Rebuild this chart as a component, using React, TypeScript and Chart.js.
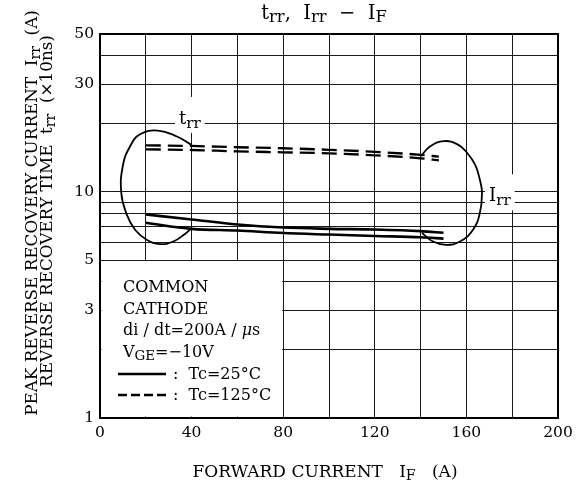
import React, { useEffect, useRef } from 'react';
import { Chart, registerables } from 'chart.js';

Chart.register(...registerables);

// ---- axes ----
const X_GRID = [0, 20, 40, 60, 80, 100, 120, 140, 160, 180, 200];
const X_LABELS = [0, 40, 80, 120, 160, 200];
const Y_GRID = [1, 2, 3, 4, 5, 6, 7, 8, 9, 10, 20, 30, 40, 50];
const Y_LABELS = [1, 3, 5, 10, 30, 50];

// ---- series (IF in A) ----
const IF_SOLID = [20, 40, 60, 80, 100, 120, 140, 150];
const SOLID_UPPER = [7.95, 7.56, 7.18, 6.96, 6.87, 6.82, 6.71, 6.6];
const SOLID_LOWER = [7.31, 6.87, 6.75, 6.58, 6.48, 6.39, 6.31, 6.22];

const IF_DASHED = [20, 40, 60, 80, 100, 120, 140, 148];
const DASHED_UPPER = [16.09, 15.98, 15.77, 15.61, 15.37, 15.06, 14.6, 14.34];
const DASHED_LOWER = [15.45, 15.34, 15.13, 14.98, 14.83, 14.53, 14.09, 13.8];

// ---- grouping loops (annotation curves) ----
const TRR_LOOP_X = [39.8, 33.6, 25.3, 17.5, 13.1, 10.0, 9.3, 11.7, 15.3, 20.4, 26.2, 32.0, 37.1, 40.0];
const TRR_LOOP_Y = [16.2, 17.6, 18.7, 18.0, 15.9, 13.1, 9.9, 7.94, 6.81, 6.15, 5.88, 6.04, 6.52, 6.93];
const IRR_LOOP_X = [140.2, 144.1, 150.2, 156.3, 160.3, 163.8, 165.9, 166.8, 165.9, 162.9, 157.2, 151.1, 145.4, 140.6];
const IRR_LOOP_Y = [14.4, 15.9, 16.8, 16.2, 14.9, 13.2, 11.3, 9.93, 8.1, 6.81, 6.04, 5.84, 6.04, 6.59];

// label anchors (data coords: left / baseline)
const TRR_LABEL = { x: 34.5, y: 20 };
const IRR_LABEL = { x: 169.9, y: 9.09 };

const FONT = '"DejaVu Serif", "Liberation Serif", serif';

type Seg = { t: string; sub?: boolean; it?: boolean };

const fontFor = (s: Seg, size: number) =>
  `${s.it ? 'italic ' : ''}${s.sub ? size * 0.84 : size}px ${FONT}`;

function richWidth(ctx: CanvasRenderingContext2D, segs: Seg[], size: number) {
  let w = 0;
  for (const s of segs) {
    ctx.font = fontFor(s, size);
    w += ctx.measureText(s.t).width;
  }
  return w;
}

function drawRich(
  ctx: CanvasRenderingContext2D,
  segs: Seg[],
  x: number,
  y: number,
  size: number,
  align: 'left' | 'center' = 'left'
) {
  const total = richWidth(ctx, segs, size);
  let cx = align === 'center' ? x - total / 2 : x;
  ctx.textAlign = 'left';
  ctx.textBaseline = 'alphabetic';
  ctx.fillStyle = '#000';
  for (const s of segs) {
    ctx.font = fontFor(s, size);
    ctx.fillText(s.t, cx, y + (s.sub ? size * 0.2 : 0));
    cx += ctx.measureText(s.t).width;
  }
  return total;
}

const TITLE: Seg[] = [
  { t: 't' }, { t: 'rr', sub: true }, { t: ',  I' }, { t: 'rr', sub: true }, { t: '  \u2212  I' }, { t: 'F', sub: true },
];
const X_TITLE: Seg[] = [{ t: 'FORWARD CURRENT   I' }, { t: 'F', sub: true }, { t: '   (A)' }];
const Y_TITLE_1: Seg[] = [{ t: 'PEAK REVERSE RECOVERY CURRENT  I' }, { t: 'rr', sub: true }, { t: '  (A)' }];
const Y_TITLE_2: Seg[] = [{ t: 'REVERSE RECOVERY TIME  t' }, { t: 'rr', sub: true }, { t: '  (\u00d710ns)' }];
const LEGEND_LINES: Seg[][] = [
  [{ t: 'COMMON' }],
  [{ t: 'CATHODE' }],
  [{ t: 'di / dt=200A / ' }, { t: '\u03bc', it: true }, { t: 's' }],
  [{ t: 'V' }, { t: 'GE', sub: true }, { t: '=\u221210V' }],
];
const LEGEND_KEYS: { segs: Seg[]; dash: number[] }[] = [
  { segs: [{ t: ':  Tc=25\u00b0C' }], dash: [] },
  { segs: [{ t: ':  Tc=125\u00b0C' }], dash: [9, 4] },
];

const pts = (xs: number[], ys: number[]) => xs.map((x, i) => ({ x, y: ys[i] }));

const LABEL_SIZE = 18;
const LEGEND_SIZE = 16;

const decorPlugin = {
  id: 'decor',
  beforeDatasetsDraw(chart: any) {
    const ctx: CanvasRenderingContext2D = chart.ctx;
    const xs = chart.scales.x;
    const ys = chart.scales.y;
    ctx.save();
    ctx.fillStyle = '#fff';
    // legend box (hides grid)
    const l = xs.getPixelForValue(0) + 1.5;
    const r = xs.getPixelForValue(80) - 1;
    const t = ys.getPixelForValue(5) + 1;
    const b = ys.getPixelForValue(1) - 1.5;
    ctx.fillRect(l, t, r - l, b - t);
    // label boxes
    const lbls: [typeof TRR_LABEL, Seg[]][] = [
      [TRR_LABEL, [{ t: 't' }, { t: 'rr', sub: true }]],
      [IRR_LABEL, [{ t: 'I' }, { t: 'rr', sub: true }]],
    ];
    for (const [pos, segs] of lbls) {
      const px = xs.getPixelForValue(pos.x);
      const py = ys.getPixelForValue(pos.y);
      const w = richWidth(ctx, segs, LABEL_SIZE);
      ctx.fillStyle = '#fff';
      ctx.fillRect(px - 4, py - 27, w + 8, 36);
    }
    ctx.restore();
  },
  afterDatasetsDraw(chart: any) {
    const ctx: CanvasRenderingContext2D = chart.ctx;
    const xs = chart.scales.x;
    const ys = chart.scales.y;
    const a = chart.chartArea;
    ctx.save();
    // frame
    ctx.strokeStyle = '#000';
    ctx.lineWidth = 2;
    ctx.strokeRect(a.left, a.top, a.right - a.left, a.bottom - a.top);

    // curve labels
    drawRich(ctx, [{ t: 't' }, { t: 'rr', sub: true }], xs.getPixelForValue(TRR_LABEL.x), ys.getPixelForValue(TRR_LABEL.y), LABEL_SIZE);
    drawRich(ctx, [{ t: 'I' }, { t: 'rr', sub: true }], xs.getPixelForValue(IRR_LABEL.x), ys.getPixelForValue(IRR_LABEL.y), LABEL_SIZE);

    // legend text
    const lx = a.left + 23;
    const baselines = [291.7, 314, 335, 356.5];
    LEGEND_LINES.forEach((segs, i) => drawRich(ctx, segs, lx, baselines[i], LEGEND_SIZE));
    const keyY = [379, 400];
    LEGEND_KEYS.forEach((k, i) => {
      ctx.strokeStyle = '#000';
      ctx.lineWidth = 2.5;
      ctx.setLineDash(k.dash);
      ctx.beginPath();
      ctx.moveTo(a.left + 18, keyY[i] - 5);
      ctx.lineTo(a.left + 66, keyY[i] - 5);
      ctx.stroke();
      ctx.setLineDash([]);
      drawRich(ctx, k.segs, a.left + 73, keyY[i], LEGEND_SIZE);
    });
    ctx.restore();
  },
  afterDraw(chart: any) {
    const ctx: CanvasRenderingContext2D = chart.ctx;
    ctx.save();
    drawRich(ctx, TITLE, 324, 18.5, 19.5, 'center');
    drawRich(ctx, X_TITLE, 325, 477, 17, 'center');
    ctx.translate(37, 213);
    ctx.rotate(-Math.PI / 2);
    drawRich(ctx, Y_TITLE_1, 0, 0, 16.8, 'center');
    ctx.restore();
    ctx.save();
    ctx.translate(51.5, 211);
    ctx.rotate(-Math.PI / 2);
    drawRich(ctx, Y_TITLE_2, 0, 0, 16.8, 'center');
    ctx.restore();
  },
};

export default function App() {
  const ref = useRef<HTMLCanvasElement>(null);
  useEffect(() => {
    const canvas = ref.current!;
    const solid = { borderColor: '#000', borderWidth: 2.6, pointRadius: 0, fill: false, cubicInterpolationMode: 'monotone' as const };
    const dashed = { ...solid, borderWidth: 2.3, borderDash: [15, 7] };
    const loop = { borderColor: '#000', borderWidth: 1.8, pointRadius: 0, fill: false, tension: 0.45 };
    const chart = new Chart(canvas, {
      type: 'line',
      data: {
        datasets: [
          { label: 'Tc=25°C a', data: pts(IF_SOLID, SOLID_UPPER), ...solid },
          { label: 'Tc=25°C b', data: pts(IF_SOLID, SOLID_LOWER), ...solid },
          { label: 'Tc=125°C a', data: pts(IF_DASHED, DASHED_UPPER), ...dashed },
          { label: 'Tc=125°C b', data: pts(IF_DASHED, DASHED_LOWER), ...dashed },
          { label: 'trr', data: pts(TRR_LOOP_X, TRR_LOOP_Y), ...loop },
          { label: 'Irr', data: pts(IRR_LOOP_X, IRR_LOOP_Y), ...loop },
        ] as any,
      },
      options: {
        animation: false,
        responsive: false,
        devicePixelRatio: 1,
        layout: { padding: { top: 34, right: 22, left: 0, bottom: 0 } },
        plugins: { legend: { display: false }, tooltip: { enabled: false }, title: { display: false } },
        scales: {
          x: {
            type: 'linear',
            min: 0,
            max: 200,
            afterBuildTicks: (s: any) => {
              s.ticks = X_GRID.map((v) => ({ value: v }));
            },
            afterFit: (s: any) => {
              s.height = 70;
            },
            ticks: {
              autoSkip: false,
              maxRotation: 0,
              padding: 6,
              color: '#000',
              font: { family: FONT, size: 15.5 },
              callback: (v: any) => (X_LABELS.includes(Number(v)) ? String(v) : ''),
            },
            grid: { color: '#1a1a1a', lineWidth: 1, drawTicks: false },
            border: { color: '#000', width: 2 },
          },
          y: {
            type: 'logarithmic',
            min: 1,
            max: 50,
            afterBuildTicks: (s: any) => {
              s.ticks = Y_GRID.map((v) => ({ value: v }));
            },
            afterFit: (s: any) => {
              s.width = 100;
            },
            ticks: {
              autoSkip: false,
              padding: 6,
              color: '#000',
              font: { family: FONT, size: 15.5 },
              callback: (v: any) => (Y_LABELS.includes(Number(v)) ? String(v) : ''),
            },
            grid: { color: '#1a1a1a', lineWidth: 1, drawTicks: false },
            border: { color: '#000', width: 2 },
          },
        },
      },
      plugins: [decorPlugin],
    } as any);
    return () => chart.destroy();
  }, []);
  return (
    <div style={{ position: 'absolute', left: 0, top: 0, width: 580, height: 488, background: '#fff' }}>
      <canvas ref={ref} width={580} height={488} style={{ display: 'block', width: 580, height: 488 }} />
    </div>
  );
}
